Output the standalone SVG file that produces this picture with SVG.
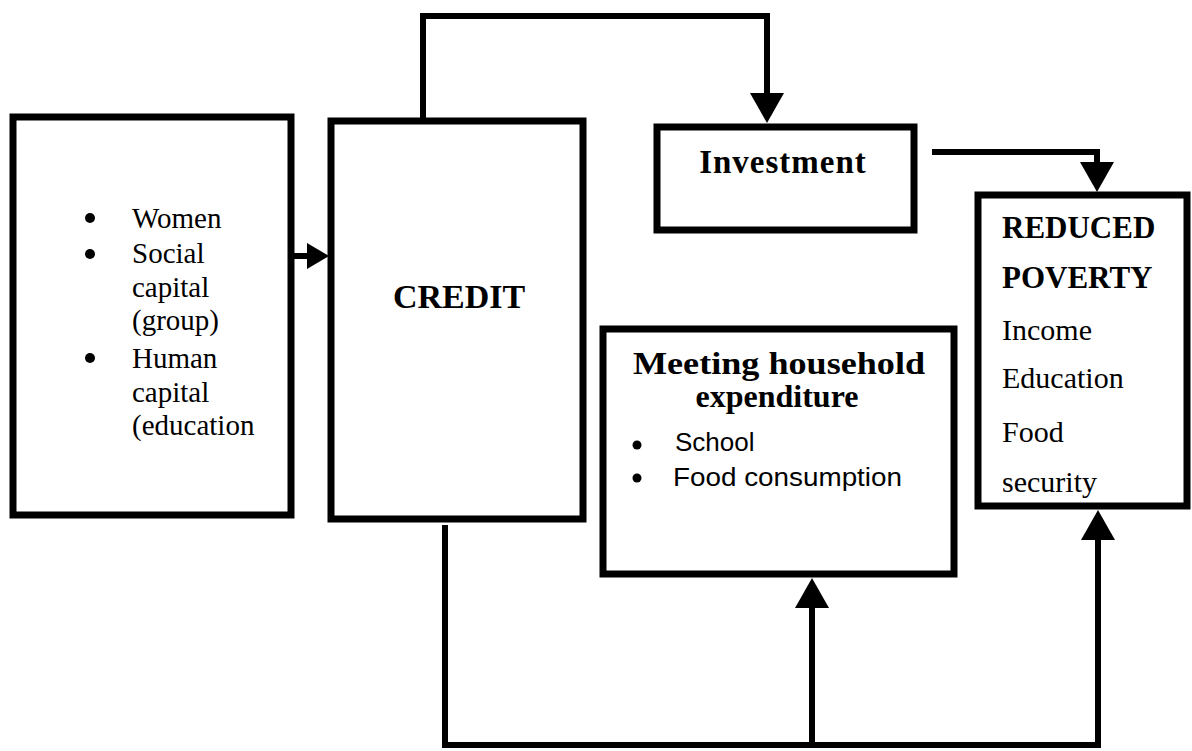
<svg xmlns="http://www.w3.org/2000/svg" width="1192" height="751" viewBox="0 0 1192 751">
<style>
.box{fill:#fff;stroke:#000;stroke-width:7}
.conn{fill:none;stroke:#000;stroke-width:6}
.serif{font-family:"Liberation Serif","Times New Roman",serif;fill:#000}
.b{font-weight:bold}
.sans{font-family:"Liberation Sans",Arial,sans-serif;fill:#000}
</style>
<defs>
<marker id="big" viewBox="0 0 30 34" markerWidth="30" markerHeight="34" refX="0" refY="17" orient="auto" markerUnits="userSpaceOnUse"><path d="M0,0 L30,17 L0,34 z" fill="#000"/></marker>
<marker id="small" viewBox="0 0 22 26" markerWidth="22" markerHeight="26" refX="0" refY="13" orient="auto" markerUnits="userSpaceOnUse"><path d="M0,0 L22,13 L0,26 z" fill="#000"/></marker>
</defs>
<rect width="1192" height="751" fill="#fff"/>
<g id="connectors">
<path class="conn" d="M294,256 H307" marker-end="url(#small)"/>
<path class="conn" d="M423,118 V16 H767 V93" marker-end="url(#big)"/>
<path class="conn" d="M932,152 H1097 V162" marker-end="url(#big)"/>
<path class="conn" d="M445,525 V745 H1098 V540" marker-end="url(#big)"/>
<path class="conn" d="M812,745 V608" marker-end="url(#big)"/>
</g>
<g id="factors">
<rect class="box" x="13" y="117" width="278" height="398"/>
<circle cx="90" cy="218" r="5"/>
<circle cx="90" cy="254" r="5"/>
<circle cx="90" cy="358" r="5"/>
<text class="serif" font-size="29" x="132" y="228">Women</text>
<text class="serif" font-size="29" x="132" y="263">Social</text>
<text class="serif" font-size="29" x="132" y="297">capital</text>
<text class="serif" font-size="29" x="132" y="330">(group)</text>
<text class="serif" font-size="29" x="132" y="368">Human</text>
<text class="serif" font-size="29" x="132" y="402">capital</text>
<text class="serif" font-size="29" x="132" y="435">(education</text>
</g>
<g id="credit">
<rect class="box" x="331" y="121" width="252" height="398"/>
<text class="serif b" font-size="34" x="459" y="308" text-anchor="middle">CREDIT</text>
</g>
<g id="investment">
<rect class="box" x="657" y="127" width="257" height="103"/>
<text class="serif b" font-size="33" x="783" y="173" text-anchor="middle" letter-spacing="1">Investment</text>
</g>
<g id="household">
<rect class="box" x="603" y="329" width="351" height="245"/>
<text class="serif b" font-size="32" x="779" y="374" text-anchor="middle" textLength="292" lengthAdjust="spacingAndGlyphs">Meeting household</text>
<text class="serif b" font-size="32" x="777" y="407" text-anchor="middle">expenditure</text>
<circle cx="637" cy="445" r="4.5"/>
<circle cx="637" cy="478" r="4.5"/>
<text class="sans" font-size="26" x="675" y="451">School</text>
<text class="sans" font-size="26" x="673" y="486" textLength="229" lengthAdjust="spacingAndGlyphs">Food consumption</text>
</g>
<g id="reduced-poverty">
<rect class="box" x="978" y="195" width="209" height="311"/>
<text class="serif b" font-size="31" x="1002" y="238">REDUCED</text>
<text class="serif b" font-size="31" x="1002" y="288">POVERTY</text>
<text class="serif" font-size="30" x="1002" y="340">Income</text>
<text class="serif" font-size="30" x="1002" y="388">Education</text>
<text class="serif" font-size="30" x="1002" y="442">Food</text>
<text class="serif" font-size="30" x="1002" y="492">security</text>
</g>
</svg>
